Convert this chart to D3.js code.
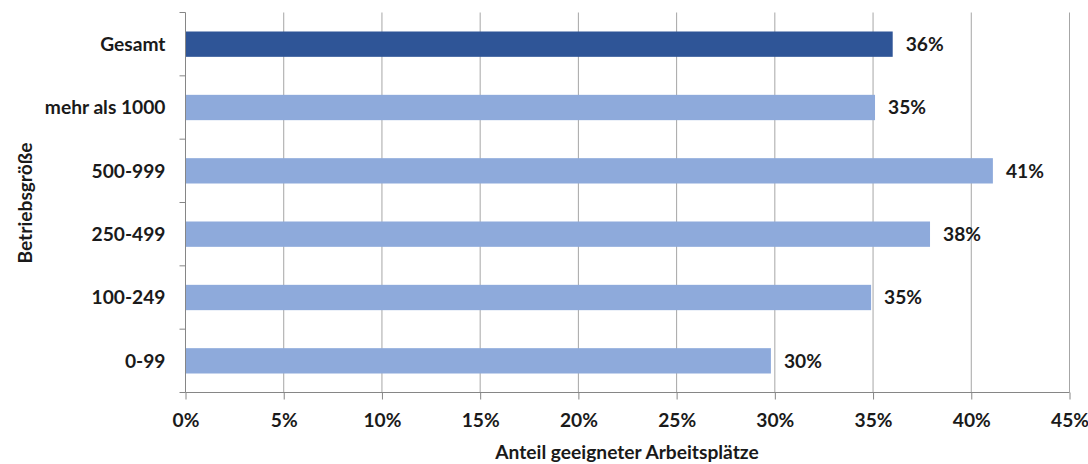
<!DOCTYPE html>
<html>
<head>
<meta charset="utf-8">
<script src="https://cdn.jsdelivr.net/npm/d3@7"></script>
<style>
  body { margin: 0; background: #fff; }
  text { font-family: Lato, "Open Sans", sans-serif; font-weight: bold; fill: #1a1a1a; }
</style>
</head>
<body>
<div id="chart"></div>
<script>
var categories = ["Gesamt", "mehr als 1000", "500-999", "250-499", "100-249", "0-99"];
var values = [36, 35.1, 41.1, 37.9, 34.9, 29.8];
var labels = ["36%", "35%", "41%", "38%", "35%", "30%"];
var xTicks = [0, 5, 10, 15, 20, 25, 30, 35, 40, 45];

var width = 1088, height = 464;
var margin = {top: 12.5, left: 185.5, right: 18.5, bottom: 71.5};
var fs = 19.2;

var svg = d3.select("#chart").append("svg")
  .attr("width", width)
  .attr("height", height);

var x = d3.scaleLinear().domain([0, 45]).range([margin.left, width - margin.right]);
var y = d3.scaleBand().domain(categories)
  .range([margin.top, height - margin.bottom])
  .paddingInner(0.6).paddingOuter(0.3);

var bottom = height - margin.bottom;

// gridlines
svg.append("g").selectAll("line")
  .data(xTicks.slice(1))
  .enter().append("line")
  .attr("x1", function(d) { return x(d); })
  .attr("x2", function(d) { return x(d); })
  .attr("y1", margin.top)
  .attr("y2", bottom)
  .attr("stroke", "#a6a6a6")
  .attr("stroke-width", 1);

// bars
svg.append("g").selectAll("rect")
  .data(categories)
  .enter().append("rect")
  .attr("x", x(0))
  .attr("y", function(d) { return y(d); })
  .attr("width", function(d, i) { return x(values[i]) - x(0); })
  .attr("height", y.bandwidth())
  .attr("fill", function(d, i) { return i == 0 ? "#2f5597" : "#8eaadb"; });

// value labels
svg.append("g").selectAll("text")
  .data(categories)
  .enter().append("text")
  .attr("x", function(d, i) { return x(values[i]) + 13; })
  .attr("y", function(d) { return y(d) + y.bandwidth() / 2; })
  .attr("dy", "0.36em")
  .attr("font-size", fs)
  .text(function(d, i) { return labels[i]; });

// x axis
var xAxis = d3.axisBottom(x)
  .tickValues(xTicks)
  .tickFormat(function(d) { return d + "%"; })
  .tickSize(7)
  .tickPadding(14);

var gx = svg.append("g")
  .attr("transform", "translate(0," + bottom + ")")
  .call(xAxis);
gx.select(".domain").attr("stroke", "#868686").attr("d", "M" + x(0) + ",0H" + x(45));
gx.selectAll(".tick line").attr("stroke", "#868686");
gx.selectAll(".tick text").attr("font-size", fs).attr("font-family", null);

// y axis
var step = y.step();
var boundaries = d3.range(categories.length + 1).map(function(i) { return margin.top + i * step; });
svg.append("line")
  .attr("x1", x(0)).attr("x2", x(0))
  .attr("y1", margin.top).attr("y2", bottom)
  .attr("stroke", "#868686");
svg.append("g").selectAll("line")
  .data(boundaries)
  .enter().append("line")
  .attr("x1", x(0) - 6).attr("x2", x(0))
  .attr("y1", function(d) { return d; })
  .attr("y2", function(d) { return d; })
  .attr("stroke", "#868686");

svg.append("g").selectAll("text")
  .data(categories)
  .enter().append("text")
  .attr("x", x(0) - 20)
  .attr("y", function(d) { return y(d) + y.bandwidth() / 2; })
  .attr("dy", "0.36em")
  .attr("text-anchor", "end")
  .attr("font-size", fs)
  .text(function(d) { return d; });

// axis titles
svg.append("text")
  .attr("x", 627)
  .attr("y", 459)
  .attr("text-anchor", "middle")
  .attr("font-size", fs)
  .text("Anteil geeigneter Arbeitsplätze");

svg.append("text")
  .attr("transform", "translate(32,203) rotate(-90)")
  .attr("text-anchor", "middle")
  .attr("font-size", fs)
  .text("Betriebsgröße");
</script>
</body>
</html>
